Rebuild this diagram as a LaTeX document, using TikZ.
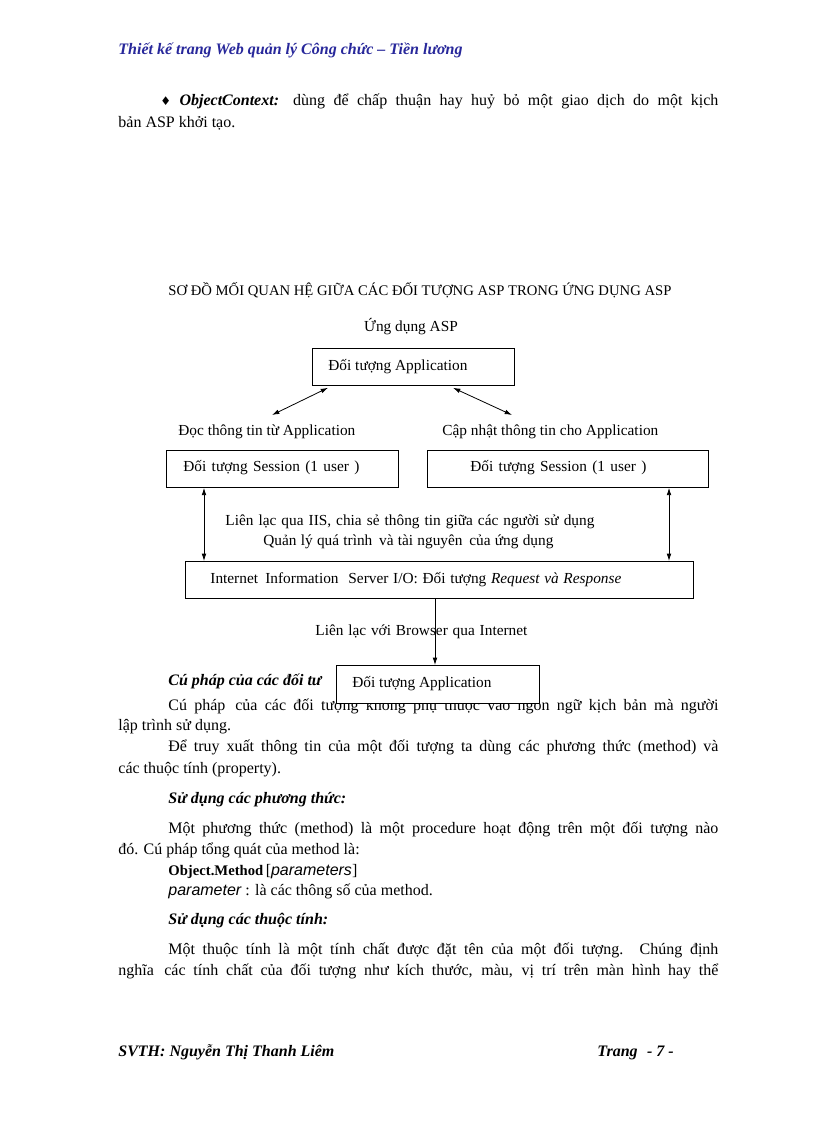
\documentclass[tikz,border=0pt]{standalone}
\usepackage{fontspec}
\setmainfont{Liberation Serif}
\newfontfamily\symfont{DejaVu Sans}
\newfontfamily\parfont{Liberation Sans}
\usetikzlibrary{arrows.meta}
\newlength\pxu
\setlength\pxu{0.75pt}
\definecolor{headblue}{RGB}{40,40,155}
\tikzset{
  txt/.style={anchor=base west, inner sep=0pt, font=\fontsize{12}{14}\selectfont},
  dtxt/.style={txt, font=\fontsize{11.5}{13}\selectfont},
  head/.style={txt, font=\fontsize{12}{14}\selectfont\bfseries\itshape},
  box/.style={draw, fill=white, inner sep=0pt, anchor=north west},
}
\begin{document}
\begin{tikzpicture}[x=0.75pt,y=-0.75pt,>={Latex[length=5.5pt,width=3.5pt]},line width=0.6pt]
\useasboundingbox (0,0) rectangle (816,1123);
\fill[white] (0,0) rectangle (816,1123);
\node[head, text=headblue] (top) at (118,55) {Thiết kế trang Web quản lý Công chức – Tiền lương};
\node[txt] (ctx1) at (160,106) {\makebox[558\pxu][s]{{\symfont\small ♦} \textbf{\textit{ObjectContext:}} dùng để chấp thuận hay huỷ bỏ một giao dịch do một kịch}};
\node[txt] (ctx2) at (118,128) {bản ASP khởi tạo.};

\node[txt, font=\fontsize{11}{13}\selectfont] (title) at (168,295) {SƠ ĐỒ MỐI QUAN HỆ GIỮA CÁC ĐỐI TƯỢNG ASP TRONG ỨNG DỤNG ASP};
\node[dtxt, anchor=base] (asp) at (411,331) {Ứng dụng ASP};
\node[box, minimum width=202\pxu, minimum height=37\pxu] (app) at (312,348) {};
\node[dtxt] (appT) at (328,370) {Đối tượng Application};
\node[dtxt] (readT) at (178,435) {Đọc thông tin từ Application};
\node[dtxt] (writeT) at (442,435) {Cập nhật thông tin cho Application};
\coordinate (rdEnd) at (272,415);
\coordinate (wrEnd) at (512,415);
\draw[<->] ([shift={(16,2)}]app.south west) -- (rdEnd);
\draw[<->] ([shift={(141,2)}]app.south west) -- (wrEnd);
\node[box, minimum width=232\pxu, minimum height=37\pxu] (sesL) at (166,450) {};
\node[dtxt] (sesLT) at (183,471) {\makebox[176\pxu][s]{Đối tượng Session (1 user )}};
\node[box, minimum width=281\pxu, minimum height=37\pxu] (sesR) at (427,450) {};
\node[dtxt] (sesRT) at (470,471) {\makebox[176\pxu][s]{Đối tượng Session (1 user )}};
\node[dtxt] (iisT1) at (225,525) {\makebox[369\pxu][s]{Liên lạc qua IIS, chia sẻ thông tin giữa các người sử dụng}};
\node[dtxt] (iisT2) at (263,545) {\makebox[290\pxu][s]{Quản lý quá trình\, và tài nguyên\, của ứng dụng}};
\node[box, minimum width=508\pxu, minimum height=37\pxu] (iis) at (185,561) {};
\node[dtxt] (iisT) at (210,583) {\makebox[411\pxu][s]{Internet\, Information\,\, Server I/O: Đối tượng \textit{Request và Response}}};
\coordinate (lv) at (204,0);
\coordinate (rv) at (669,0);
\draw[<->] (sesL.south -| lv) -- (iis.north -| lv);
\draw[<->] (sesR.south -| rv) -- (iis.north -| rv);
\node[dtxt] (webT) at (315,635) {\makebox[212\pxu][s]{Liên lạc với Browser qua Internet}};

\node[head] (synH) at (168,685) {Cú pháp của các đối tư};
\node[txt] (syn1) at (168,710) {\makebox[550\pxu][s]{Cú pháp\, của các đối tượng không phụ thuộc vào ngôn ngữ kịch bản mà người}};
\node[box, minimum width=203\pxu, minimum height=38\pxu] (app2) at (336,665) {};
\node[dtxt] (app2T) at (352,687) {Đối tượng Application};
\coordinate (dv) at (435,0);
\draw[->] (iis.south -| dv) -- (app2.north -| dv);
\node[txt] (syn2) at (118,730) {lập trình sử dụng.};
\node[txt] (syn3) at (168,751) {\makebox[550\pxu][s]{Để truy xuất thông tin của một đối tượng ta dùng các phương thức (method) và}};
\node[txt] (syn4) at (118,773) {các thuộc tính (property).};

\node[head] (metH) at (168,803) {Sử dụng các phương thức:};
\node[txt] (met1) at (168,833) {\makebox[550\pxu][s]{Một phương thức (method) là một procedure hoạt động trên một đối tượng nào}};
\node[txt] (met2) at (118,854) {đó. Cú pháp tổng quát của method là:};
\node[txt] (met3) at (168,875) {{\fontsize{11}{13}\selectfont\bfseries Object.Method\,}[{\parfont\itshape parameters}]};
\node[txt] (met4) at (168,895) {{\parfont\itshape parameter} : là các thông số của method.};

\node[head] (proH) at (168,924) {Sử dụng các thuộc tính:};
\node[txt] (pro1) at (168,954) {\makebox[550\pxu][s]{Một thuộc tính là một tính chất được đặt tên của một đối tượng. Chúng định}};
\node[txt] (pro2) at (118,975) {\makebox[600\pxu][s]{nghĩa\, các tính chất của đối tượng như kích thước, màu, vị trí trên màn hình hay thể}};

\node[head] (foot) at (118,1056) {SVTH: Nguyễn Thị Thanh Liêm};
\node[head] (page) at (597,1056) {Trang\,\, - 7 -};
\end{tikzpicture}
\end{document}
